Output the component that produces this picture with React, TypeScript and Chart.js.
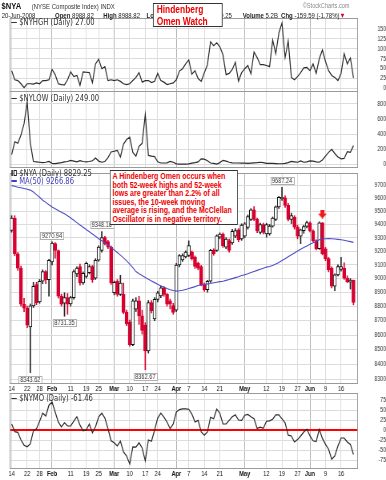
import React, { useEffect, useRef } from "react";
import { Chart, registerables } from "chart.js";

Chart.register(...registerables);

// ---------------- data ----------------
const days = [
  "01-14","01-15","01-16","01-17","01-18","01-22","01-23","01-24","01-25","01-28","01-29","01-30","01-31",
  "02-01","02-04","02-05","02-06","02-07","02-08","02-11","02-12","02-13","02-14","02-15","02-19","02-20","02-21","02-22","02-25","02-26","02-27","02-28","02-29",
  "03-03","03-04","03-05","03-06","03-07","03-10","03-11","03-12","03-13","03-14","03-17","03-18","03-19","03-20","03-24","03-25","03-26","03-27","03-28","03-31",
  "04-01","04-02","04-03","04-04","04-07","04-08","04-09","04-10","04-11","04-14","04-15","04-16","04-17","04-18","04-21","04-22","04-23","04-24","04-25","04-28","04-29","04-30",
  "05-01","05-02","05-05","05-06","05-07","05-08","05-09","05-12","05-13","05-14","05-15","05-16","05-19","05-20","05-21","05-22","05-23","05-27","05-28","05-29","05-30",
  "06-02","06-03","06-04","06-05","06-06","06-09","06-10","06-11","06-12","06-13","06-16","06-17","06-18","06-19","06-20",
];

const xTickDates = ["01-14","01-22","01-28","02-01","02-11","02-19","02-25","03-03","03-10","03-17","03-24","04-01","04-07","04-14","04-21","05-01","05-12","05-19","05-27","06-02","06-09","06-16"];
const xTickLabels = ["14","22","28","Feb","11","19","25","Mar","10","17","24","Apr","7","14","21","May","12","19","27","Jun","9","16"];
const monthLabels = ["Feb","Mar","Apr","May","Jun"];

const nyaOpen = [
  9356,9450,9182,9076,8816,8788,8656,8805,8956,8833,
  8981,9051,8992,9121,9258,9206,8873,8823,8863,8818,
  8863,9034,9088,8968,9016,9044,9088,9004,9134,9207,
  9302,9272,9232,8898,8980,8886,8886,8759,8690,8534,
  8781,8840,8734,8668,8490,8828,8712,8851,8875,8933,
  8886,8840,8806,8774,9099,9136,9158,9169,9195,9158,
  9111,9088,8956,8921,8981,9207,9207,9305,9328,9231,
  9280,9262,9313,9360,9292,9313,9378,9440,9512,9440,
  9342,9401,9330,9330,9389,9440,9536,9598,9606,9547,
  9440,9458,9381,9313,9355,9386,9413,9353,9280,9219,
  9413,9219,9146,9076,8946,9027,9066,9075,9004,8975,
  8988.82,
];
const nyaHigh = [
  9468,9468,9192,9091,8858,8803,8818,8973,8973,8994,
  9064,9059,9141,9270.94,9265,9210,8888,8898,8893,8873,
  9064,9086,9106,9049,9121,9101,9096,9146,9241,9348.16,
  9312,9282,9240,8983,8993,9024,8968,8774,8705,8853,
  8863,8873,8774,8686,8843,8843,8863,8908,8948,8943,
  8893,8853,8823,9111,9176,9181,9203,9278,9203,9166,
  9121,9096,8968,8988,9214,9219,9323,9338,9338,9302,
  9292,9365,9370,9370,9406,9416,9474,9522,9538,9450,
  9411,9411,9411,9401,9458,9543,9616,9687.24,9621,9562,
  9488,9468,9396,9366,9396,9426,9421,9360,9287,9421,
  9416,9229,9156,9086,9034,9101,9156,9116,9020,9000,
  8988.82,
];
const nyaLow = [
  9343,9167,9060,8803,8764,8651,8343.62,8793,8813,8823,
  8963,8963,8873,9100,9150,8860,8803,8731.35,8745,8803,
  8853,9014,8953,8958,9004,9034,8973,8994,9126,9194,
  9248,9220,8958,8883,8873,8878,8749,8665,8523,8527,
  8764,8674,8606,8362.67,8476,8754,8700,8833,8863,8873,
  8803,8783,8745,8764,9086,9126,9151,9161,9136,9074,
  9064,8948,8908,8903,8973,9171,9199,9293,9229,9219,
  9194,9252,9302,9272,9282,9302,9366,9430,9430,9340,
  9330,9330,9305,9320,9381,9430,9523,9586,9532,9428,
  9408,9366,9293,9257,9335,9376,9345,9272,9210,9214,
  9174,9131,9049,8933,8913,9019,9054,8994,8970,8925,
  8812.34,
];
const nyaClose = [
  9450,9182,9076,8816,8788,8668,8805,8945,8828,8981,
  9051,8992,9134,9262,9206,8873,8816,8863,8816,8863,
  9051,9076,8968,9039,9111,9088,8992,9134,9231,9302,
  9257,9230,8968,8973,8886,8968,8759,8678,8534,8840,
  8840,8734,8633,8490,8828,8771,8851,8898,8933,8886,
  8816,8816,8759,9099,9169,9169,9195,9242,9146,9088,
  9076,8956,8921,8981,9207,9182,9316,9328,9242,9292,
  9207,9350,9355,9287,9396,9406,9462,9512,9440,9353,
  9401,9342,9401,9389,9450,9536,9609,9609,9547,9440,
  9468,9381,9313,9360,9386,9416,9353,9280,9219,9413,
  9182,9146,9064,8946,9027,9088,9088,9004,8978,8988.84,
  8829.25,
];
const nyaMA50 = [
  9700,9695,9688,9683,9678,9672,9665,9650,9630,9610,
  9587,9570,9552,9534,9521,9508,9495,9482,9467,9450,
  9433,9415,9397,9380,9363,9346,9329,9312,9294,9278,
  9262,9246,9228,9210,9191,9172,9152,9130,9106,9080,
  9051,9036,9022,9008,8995,8983,8971,8959,8947,8937,
  8928,8920,8914,8910,8912,8916,8922,8928,8935,8942,
  8950,8955,8958,8962,8965,8970,8974,8978,8981,8987,
  8993,9000,9007,9013,9022,9028,9035,9044,9052,9060,
  9068,9076,9084,9088,9096,9106,9118,9132,9146,9160,
  9174,9188,9202,9215,9228,9240,9252,9263,9274,9286,
  9292,9294,9295,9294,9292,9289,9286,9282,9277,9272,
  9266.86,
];
const nyaVolume = "5.2B";

const nyhgh = [
  45,22,20,12,2,12,12,11,14,12,
  20,20,22,48,35,12,10,9,22,42,
  30,33,8,42,41,40,15,62,74,50,
  55,20,22,20,22,18,12,10,12,20,
  28,40,16,20,20,15,18,38,20,16,
  10,12,14,22,44,50,62,72,36,45,
  25,18,40,60,118,108,115,105,85,35,
  38,48,66,18,40,50,58,37,92,78,
  60,60,58,55,122,88,140,165,78,120,
  28,22,30,40,52,53,45,62,38,75,
  97,68,45,33,28,20,38,88,62,77,
  27,
];
const nylow = [
  130,300,280,390,540,830,290,40,35,30,
  25,30,40,15,12,18,25,35,40,55,
  45,35,50,40,35,40,50,85,45,30,
  40,90,165,175,185,100,270,330,360,160,
  110,240,280,660,120,110,105,35,20,20,
  22,40,30,8,5,5,5,8,18,25,
  35,75,70,50,20,15,5,25,55,45,
  30,22,20,20,18,18,15,18,22,25,
  30,25,15,15,15,12,10,10,15,25,
  40,35,30,48,30,35,48,45,35,30,
  60,110,160,200,145,100,75,80,170,160,
  249,
];
const nymo = [
  15,-4,-6,-25,-38,-42,-35,-2,3,22,
  42,35,62,70,45,20,8,18,10,10,
  22,33,12,-2,0,15,-7,8,33,42,
  30,3,-27,-32,-40,-28,-55,-65,-85,-42,
  -43,-32,-45,-77,-25,-28,0,30,42,32,
  20,3,15,45,51,53,53,52,40,20,
  24,-5,-13,-5,32,28,52,42,15,15,
  24,33,38,25,24,37,39,33,28,4,
  7,4,22,23,27,38,38,28,18,-13,
  -15,-30,-24,-15,-5,2,-15,-27,-29,2,
  -21,-36,-48,-73,-65,-40,-20,-20,-30,-36,
  -61.46,
];

const hgTicks = [0, 25, 50, 75, 100, 125, 150];
const lowTicks = [0, 200, 400, 600, 800];
const nyaTicks = [8300, 8400, 8500, 8600, 8700, 8800, 8900, 9000, 9100, 9200, 9300, 9400, 9500, 9600, 9700];
const moTicks = [-75, -50, -25, 0, 25, 50, 75];

const peakMarks = [
  { date: "01-23", side: "low" },
  { date: "02-01", side: "high" },
  { date: "02-07", side: "low" },
  { date: "02-26", side: "high" },
  { date: "03-17", side: "low" },
  { date: "05-19", side: "high" },
];
const signalDate = "06-06";
const signalLevel = 9480;

const noteLines = [
  "A Hindenberg Omen occurs when",
  "both 52-week highs and 52-week",
  "lows are greater than 2.2% of all",
  "issues, the 10-week moving",
  "average is rising, and the McClellan",
  "Oscillator is in negative territory.",
];

// ---------------- layout / style ----------------
const W0 = 482;
const SX = 386 / W0;
const PAD_L = 12;
const AXIS_W = 35;
const X_MIN = -0.65;
const X_MAX = 111.45;
const FONT = "Arial, 'Liberation Sans', sans-serif";
const LFONT = "'DejaVu Sans', Verdana, sans-serif";
const RED = "#d8002f";
const GRID = "#dcdcdc";
const GRID_MONTH = "#b0b0b0";
const LINE = "#2b2b2b";

const idx = days.map((_, i) => i);
const tickIdx = xTickDates.map((d) => days.indexOf(d));
const tickText = new Map(tickIdx.map((i, k) => [i, xTickLabels[k]]));
const isMonth = (v: any) => monthLabels.includes(tickText.get(v) ?? "");

function xScale(showLabels: boolean, height: number, pad: number) {
  return {
    type: "linear",
    position: "bottom",
    min: X_MIN,
    max: X_MAX,
    offset: false,
    afterBuildTicks: (s: any) => {
      s.ticks = tickIdx.map((v) => ({ value: v }));
    },
    afterFit: (s: any) => {
      s.height = height;
      s.paddingLeft = 0;
      s.paddingRight = 0;
    },
    ticks: {
      display: showLabels,
      autoSkip: false,
      maxRotation: 0,
      minRotation: 0,
      padding: pad,
      color: "#111",
      font: (c: any) => ({ family: FONT, size: 7, weight: c.tick && isMonth(c.tick.value) ? "bold" : "normal" }),
      callback: (v: any) => tickText.get(v) ?? "",
    },
    grid: {
      offset: false,
      drawTicks: false,
      lineWidth: 1,
      color: (c: any) => (c.tick && isMonth(c.tick.value) ? GRID_MONTH : GRID),
    },
    border: { display: false },
  };
}

function yScale(o: any) {
  return {
    type: o.type ?? "linear",
    position: "right",
    min: o.min,
    max: o.max,
    beginAtZero: false,
    afterBuildTicks: (s: any) => {
      s.ticks = o.ticks.map((v: number) => ({ value: v }));
    },
    afterFit: (s: any) => {
      s.width = AXIS_W;
      s.paddingTop = 0;
      s.paddingBottom = 0;
    },
    ticks: {
      autoSkip: false,
      padding: o.pad,
      crossAlign: "far",
      color: "#333",
      font: { family: FONT, size: 6.5 },
      callback: (v: any) => String(v),
    },
    grid: { drawTicks: false, lineWidth: o.gridWidth ?? 1, color: o.gridColor ?? GRID },
    border: { display: false },
  };
}

const framePlugin = {
  id: "frame",
  afterDraw(chart: any) {
    const { ctx, chartArea: a } = chart;
    ctx.save();
    ctx.strokeStyle = "#9a9a9a";
    ctx.lineWidth = 1;
    ctx.strokeRect(a.left + 0.5, a.top + 0.5, a.right - a.left - 1, a.bottom - a.top - 1);
    ctx.restore();
  },
};

const peakPlugin = {
  id: "peaks",
  afterDatasetsDraw(chart: any) {
    const { ctx } = chart;
    const xs = chart.scales.x;
    const ys = chart.scales.y;
    ctx.save();
    ctx.font = `7px ${FONT}`;
    ctx.textAlign = "center";
    ctx.textBaseline = "middle";
    for (const p of peakMarks) {
      const i = days.indexOf(p.date);
      const v = p.side === "high" ? nyaHigh[i] : nyaLow[i];
      const px = xs.getPixelForValue(i);
      const py = ys.getPixelForValue(v);
      const text = v.toFixed(2);
      const w = Math.round(ctx.measureText(text).width + 4);
      const h = 7;
      const top = Math.round(p.side === "high" ? py - 3 - h : py + 3);
      const left = Math.round(px - w / 2);
      ctx.fillStyle = "#fff";
      ctx.fillRect(left, top, w, h);
      ctx.strokeStyle = "#b0b0b0";
      ctx.lineWidth = 1;
      ctx.strokeRect(left + 0.5, top + 0.5, w, h);
      ctx.fillStyle = "#333";
      ctx.fillText(text, px, top + h / 2 + 1);
    }
    ctx.restore();
  },
};

const baseOptions = {
  responsive: false,
  animation: false,
  events: [],
  layout: { padding: { left: PAD_L, right: 0, top: 0, bottom: 0 } },
  plugins: { legend: { display: false }, tooltip: { enabled: false } },
};

function lineSeries(values: number[]) {
  return {
    type: "line",
    data: idx.map((i) => ({ x: i, y: values[i] })),
    borderColor: LINE,
    borderWidth: 1.2,
    pointRadius: 0,
    tension: 0,
  };
}

export default function App() {
  const c1 = useRef<HTMLCanvasElement>(null);
  const c2 = useRef<HTMLCanvasElement>(null);
  const c3 = useRef<HTMLCanvasElement>(null);
  const c4 = useRef<HTMLCanvasElement>(null);

  useEffect(() => {
    const charts: any[] = [];

    charts.push(
      new Chart(c1.current as any, {
        type: "line",
        data: { datasets: [lineSeries(nyhgh)] as any },
        options: {
          ...baseOptions,
          scales: {
            x: xScale(false, 0, 0),
            y: yScale({ min: -8.8, max: 177.7, ticks: hgTicks, pad: 6.1 }),
          },
        } as any,
        plugins: [framePlugin],
      })
    );

    charts.push(
      new Chart(c2.current as any, {
        type: "line",
        data: { datasets: [lineSeries(nylow)] as any },
        options: {
          ...baseOptions,
          scales: {
            x: xScale(false, 0, 0),
            y: yScale({ min: -46.3, max: 971.9, ticks: lowTicks, pad: 4.4 }),
          },
        } as any,
        plugins: [framePlugin],
      })
    );

    const arrowImg = document.createElement("canvas");
    arrowImg.width = 11;
    arrowImg.height = 9;
    const a = arrowImg.getContext("2d") as CanvasRenderingContext2D;
    a.fillStyle = "#f01a1a";
    a.fillRect(3, 0, 5, 4.5);
    a.beginPath();
    a.moveTo(0, 4);
    a.lineTo(11, 4);
    a.lineTo(5.5, 9);
    a.closePath();
    a.fill();

    const up = idx.map((i) => nyaClose[i] >= nyaOpen[i]);
    charts.push(
      new Chart(c3.current as any, {
        type: "bar",
        data: {
          datasets: [
            {
              type: "line",
              data: idx.map((i) => ({ x: i, y: nyaMA50[i] })),
              borderColor: "#4c4cc6",
              borderWidth: 1.1,
              pointRadius: 0,
              tension: 0,
              order: 0,
            },
            {
              type: "line",
              data: [{ x: days.indexOf(signalDate), y: signalLevel }],
              showLine: false,
              pointStyle: arrowImg,
              pointRadius: 5,
              order: 0,
            },
            {
              type: "bar",
              data: idx.map((i) => ({ x: i, y: [nyaOpen[i], nyaClose[i]] })),
              backgroundColor: up.map((u) => (u ? "#ffffff" : RED)),
              borderColor: up.map((u) => (u ? "#111111" : RED)),
              borderWidth: 1,
              borderSkipped: false,
              barThickness: 4,
              minBarLength: 1,
              grouped: false,
              order: 1,
            },
            {
              type: "bar",
              data: idx.map((i) => ({ x: i, y: [nyaLow[i], nyaHigh[i]] })),
              backgroundColor: up.map((u) => (u ? "#222222" : RED)),
              borderWidth: 0,
              barThickness: 1,
              grouped: false,
              order: 2,
            },
          ] as any,
        },
        options: {
          ...baseOptions,
          scales: {
            x: xScale(true, 9, 0.5),
            y: yScale({ type: "logarithmic", min: 8267.5, max: 9799.2, ticks: nyaTicks, pad: 7.4 }),
          },
        } as any,
        plugins: [framePlugin, peakPlugin],
      })
    );

    charts.push(
      new Chart(c4.current as any, {
        type: "line",
        data: { datasets: [lineSeries(nymo)] as any },
        options: {
          ...baseOptions,
          scales: {
            x: xScale(true, 11, 1),
            y: yScale({
              min: -97.5,
              max: 92.5,
              ticks: moTicks,
              pad: 2.5,
              gridColor: (c: any) => (c.tick && c.tick.value === 0 ? "#ff0000" : GRID),
              gridWidth: (c: any) => (c.tick && c.tick.value === 0 ? 2 : 1),
            }),
          },
        } as any,
        plugins: [framePlugin],
      })
    );

    return () => charts.forEach((c) => c.destroy());
  }, []);

  const last = nyaClose.length - 1;
  const chg = nyaClose[last] - nyaClose[last - 1];
  const pct = (chg / nyaClose[last - 1]) * 100;

  const txt = (left: number, top: number, content: any, extra: any = {}) => (
    <div style={{ position: "absolute", left, top, font: `7.5px ${FONT}`, lineHeight: "7.5px", color: "#222", whiteSpace: "nowrap", ...extra }}>
      {content}
    </div>
  );

  const legend = (top: number, text: string, color = "#333", icon = "line") => (
    <div style={{ position: "absolute", left: 14, top, font: `8.5px ${LFONT}`, lineHeight: "8.5px", color, whiteSpace: "nowrap" }}>
      {icon === "line" ? (
        <span style={{ display: "inline-block", width: 7, height: 1.5, background: color, verticalAlign: "middle", marginRight: 3 }} />
      ) : (
        <span style={{ display: "inline-block", verticalAlign: "middle", marginRight: 3 }}>
          <span style={{ display: "inline-block", width: 2, height: 6, background: "#222", marginRight: 1 }} />
          <span style={{ display: "inline-block", width: 2, height: 4, border: "1px solid #222", background: "#fff" }} />
        </span>
      )}
      {text}
    </div>
  );

  return (
    <div style={{ position: "absolute", left: 0, top: 0, width: 386, height: 480, overflow: "hidden", background: "#fff" }}>
      <div style={{ position: "absolute", left: 0, top: 0, width: W0, height: 480, transform: `scaleX(${SX})`, transformOrigin: "0 0" }}>
        <canvas ref={c1} width={W0} height={74} style={{ position: "absolute", left: 0, top: 18 }} />
        <canvas ref={c2} width={W0} height={77} style={{ position: "absolute", left: 0, top: 91 }} />
        <canvas ref={c3} width={W0} height={226} style={{ position: "absolute", left: 0, top: 167 }} />
        <canvas ref={c4} width={W0} height={87} style={{ position: "absolute", left: 0, top: 393 }} />

        {/* header */}
        <div style={{ position: "absolute", left: 2, top: 1.4, font: `bold 9.5px ${FONT}`, lineHeight: "9.5px", color: "#111" }}>$NYA</div>
        {txt(39.6, 3.2, "(NYSE Composite Index) INDX", { color: "#333" })}
        {txt(378, 2.2, "©StockCharts.com", { color: "#8a8a8a", font: `7px ${FONT}`, lineHeight: "7px" })}
        {txt(2.1, 11.5, "20-Jun-2008")}
        {txt(68.7, 11.5, <><b>Open</b> {nyaOpen[last].toFixed(2)}</>)}
        {txt(129, 11.5, <><b>High</b> {nyaHigh[last].toFixed(2)}</>)}
        {txt(183, 11.5, <><b>Low</b> {nyaLow[last].toFixed(2)}</>)}
        {txt(240, 11.5, <><b>Close</b> {nyaClose[last].toFixed(2)}</>)}
        {txt(303, 11.5, <><b>Volume</b> {nyaVolume}</>)}
        {txt(351, 11.5, <><b>Chg</b> {chg.toFixed(2)} ({pct.toFixed(2)}%)<span style={{ color: RED }}>▼</span></>)}

        <div
          style={{
            position: "absolute", left: 190.6, top: 3.3, width: 87.4, height: 24, boxSizing: "border-box",
            border: "1px solid #333", background: "#fff", color: "#ee0000", font: `bold 10.5px ${FONT}`,
            lineHeight: "11.2px", paddingLeft: 4, paddingTop: 0,
          }}
        >
          Hindenberg<br />Omen Watch
        </div>

        {/* panel legends */}
        {legend(18.2, `$NYHGH (Daily) ${nyhgh[last].toFixed(2)}`)}
        {legend(94.2, `$NYLOW (Daily) ${nylow[last].toFixed(2)}`)}
        {legend(169.2, `$NYA (Daily) ${nyaClose[last].toFixed(2)}`, "#333", "candle")}
        {legend(176.6, `MA(50) ${nyaMA50[last].toFixed(2)}`, "#4040c0")}
        {legend(394.2, `$NYMO (Daily) ${nymo[last].toFixed(2)}`)}

        {/* note box */}
        <div
          style={{
            position: "absolute", left: 137.4, top: 170, width: 160, boxSizing: "border-box",
            border: "1px solid #333", background: "#fff", color: "#ee0000", font: `bold 8.8px ${FONT}`,
            lineHeight: "8.5px", padding: "1px 0 1px 2px", whiteSpace: "nowrap",
          }}
        >
          {noteLines.map((l, k) => (
            <div key={k} style={{ height: "8.5px" }}>{l}</div>
          ))}
        </div>
      </div>
    </div>
  );
}
